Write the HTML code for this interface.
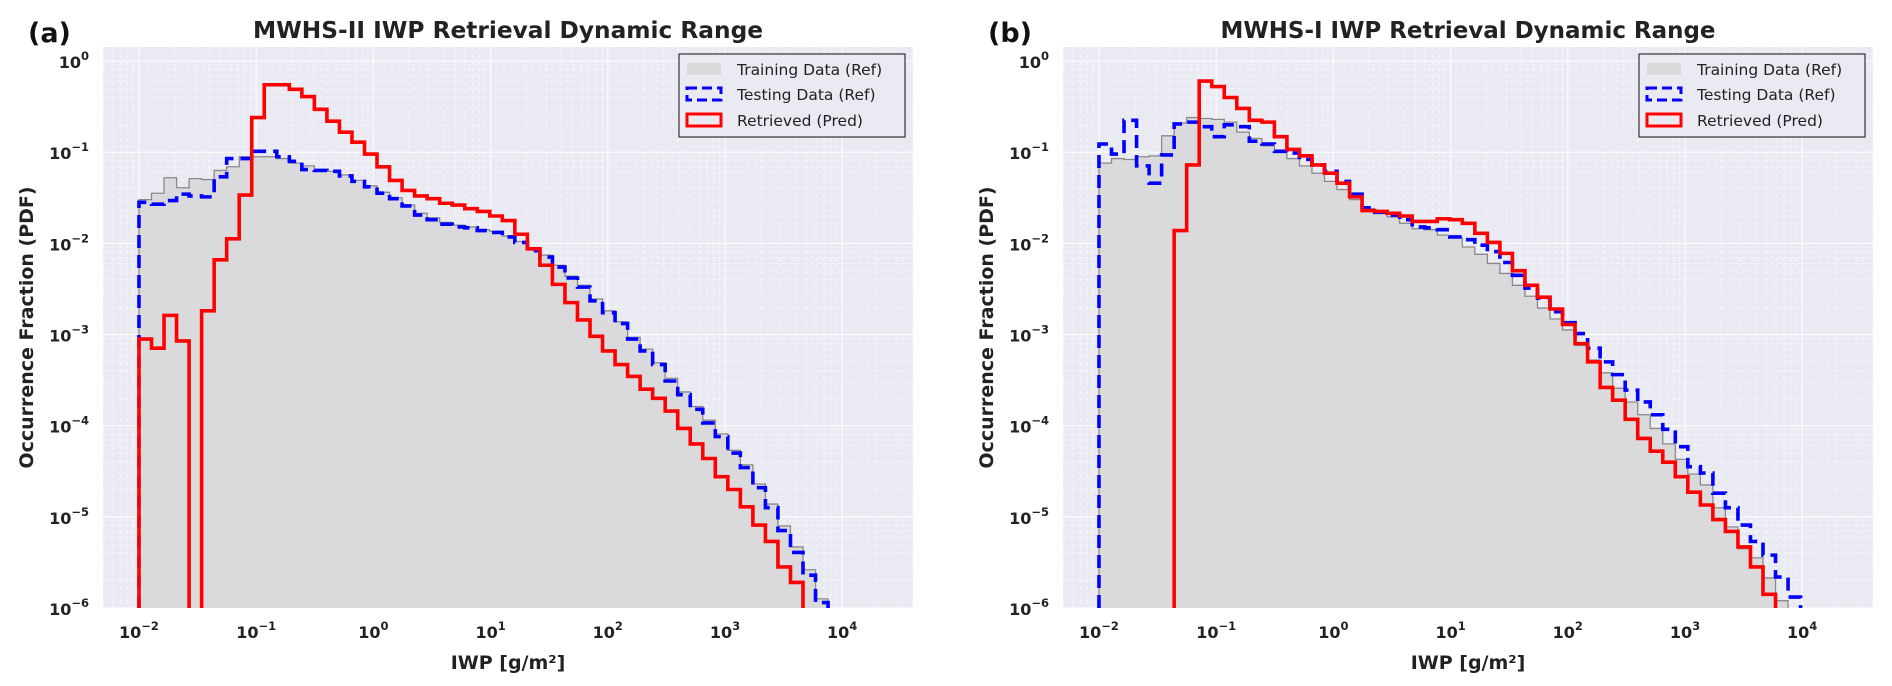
<!DOCTYPE html>
<html><head><meta charset="utf-8"><style>
html,body{margin:0;padding:0;background:#fff;}
svg{display:block;font-family:"DejaVu Sans","Liberation Sans",sans-serif;}
</style></head><body>
<svg id="fig" width="1892" height="686" viewBox="0 0 1892 686" xmlns="http://www.w3.org/2000/svg"></svg>
<script>
// ---- data (log10 of PDF per bin; null = empty bin) ----
const binStart = -2;
const binWidth = 0.1069;
const xTickExps = [-2, -1, 0, 1, 2, 3, 4];
const yTickExps = [0, -1, -2, -3, -4, -5, -6];
const legendLabels = ["Training Data (Ref)", "Testing Data (Ref)", "Retrieved (Pred)"];
const panelTitles = ["MWHS-II IWP Retrieval Dynamic Range", "MWHS-I IWP Retrieval Dynamic Range"];
const panelTags = ["(a)", "(b)"];

const aTrain = [-1.52,-1.45,-1.28,-1.39,-1.29,-1.30,-1.20,-1.16,-1.05,-1.05,-1.05,-1.07,-1.12,-1.15,-1.19,-1.21,-1.25,-1.31,-1.37,-1.44,-1.50,-1.58,-1.67,-1.72,-1.77,-1.80,-1.82,-1.85,-1.87,-1.92,-1.98,-2.06,-2.13,-2.24,-2.36,-2.46,-2.61,-2.74,-2.86,-3.03,-3.16,-3.31,-3.48,-3.63,-3.79,-3.94,-4.09,-4.27,-4.43,-4.64,-4.86,-5.10,-5.33,-5.58,-5.90];
const aTest = [-1.55,-1.57,-1.53,-1.46,-1.48,-1.49,-1.27,-1.07,-1.07,-0.99,-0.99,-1.05,-1.10,-1.19,-1.20,-1.21,-1.26,-1.32,-1.38,-1.45,-1.51,-1.59,-1.69,-1.74,-1.79,-1.82,-1.83,-1.86,-1.88,-1.93,-1.99,-2.08,-2.15,-2.26,-2.38,-2.48,-2.63,-2.76,-2.88,-3.05,-3.18,-3.33,-3.51,-3.66,-3.82,-3.97,-4.12,-4.30,-4.46,-4.68,-4.90,-5.15,-5.39,-5.64,-5.94];
const aPred = [-3.05,-3.15,-2.79,-3.07,null,-2.74,-2.18,-1.95,-1.47,-0.62,-0.26,-0.26,-0.31,-0.39,-0.53,-0.66,-0.78,-0.89,-1.02,-1.16,-1.31,-1.42,-1.48,-1.51,-1.56,-1.58,-1.62,-1.65,-1.70,-1.75,-1.90,-2.06,-2.24,-2.45,-2.65,-2.84,-3.02,-3.18,-3.33,-3.46,-3.60,-3.70,-3.84,-4.03,-4.20,-4.36,-4.56,-4.70,-4.89,-5.09,-5.27,-5.55,-5.72];

const bTrain = [-1.12,-1.07,-1.08,-1.05,-1.04,-0.82,-0.68,-0.62,-0.63,-0.64,-0.67,-0.78,-0.85,-0.93,-0.98,-1.07,-1.15,-1.23,-1.32,-1.41,-1.52,-1.62,-1.67,-1.71,-1.78,-1.84,-1.85,-1.91,-1.94,-2.04,-2.12,-2.22,-2.33,-2.46,-2.58,-2.71,-2.83,-2.95,-3.12,-3.28,-3.42,-3.59,-3.74,-3.88,-4.03,-4.20,-4.37,-4.53,-4.65,-4.90,-5.11,-5.35,-5.45,-5.67,-5.92];
const bTest = [-0.91,-1.02,-0.65,-1.15,-1.34,-1.03,-0.69,-0.67,-0.72,-0.83,-0.70,-0.72,-0.88,-0.91,-0.99,-1.01,-1.08,-1.14,-1.21,-1.32,-1.46,-1.61,-1.66,-1.69,-1.74,-1.82,-1.83,-1.85,-1.93,-1.96,-2.02,-2.09,-2.21,-2.35,-2.49,-2.60,-2.75,-2.87,-2.99,-3.15,-3.30,-3.44,-3.61,-3.74,-3.88,-4.04,-4.23,-4.45,-4.52,-4.74,-4.90,-5.09,-5.27,-5.42,-5.66,-5.88];
const bPred = [null,null,null,null,null,null,-1.86,-1.14,-0.22,-0.28,-0.40,-0.52,-0.65,-0.67,-0.83,-0.97,-1.04,-1.14,-1.23,-1.34,-1.49,-1.64,-1.65,-1.67,-1.70,-1.76,-1.76,-1.73,-1.74,-1.78,-1.89,-1.99,-2.11,-2.30,-2.46,-2.59,-2.72,-2.89,-3.10,-3.30,-3.58,-3.72,-3.93,-4.14,-4.28,-4.40,-4.56,-4.73,-4.87,-5.03,-5.16,-5.33,-5.55,-5.85];

const NS = "http://www.w3.org/2000/svg";
const svg = document.getElementById('fig');
function mk(tag, attrs, parent) {
  const e = document.createElementNS(NS, tag);
  for (const k in attrs) e.setAttribute(k, attrs[k]);
  (parent || svg).appendChild(e);
  return e;
}

function drawPanel(p, left, train, test, pred) {
  const right = left + 810, top = 47, bottom = 608;
  const xMin = -2.307, xMax = xMin + 810 / 117.2;
  const yMin = -6, yMax = 0.154;
  const xS = v => left + (v - xMin) / (xMax - xMin) * (right - left);
  const yS = v => bottom - (v - yMin) / (yMax - yMin) * (bottom - top);

  const g = mk('g', {});
  
  

  const clipId = 'clip' + p;
  const cp = mk('clipPath', {id: clipId}, g);
  mk('rect', {x: left, y: top, width: right - left, height: bottom - top}, cp);

  const bg = mk('rect', {x: left, y: top, width: right - left, height: bottom - top, fill: '#EAEAF2'}, g);
  
  

  const grid = mk('g', {'clip-path': `url(#${clipId})`}, g);
  
  
  for (let d = -3; d <= 5; d++) {
    for (let m = 1; m <= 9; m++) {
      const xv = d + Math.log10(m);
      if (xv > xMin && xv < xMax) mk('line', {x1: xS(xv), x2: xS(xv), y1: top, y2: bottom, stroke: '#fff', 'stroke-width': m === 1 ? 1.2 : 0.8, 'stroke-dasharray': m === 1 ? 'none' : '4 3', opacity: m === 1 ? 0.9 : 0.7}, grid);
    }
  }
  for (let d = -6; d <= 0; d++) {
    for (let m = 1; m <= 9; m++) {
      const yv = d + Math.log10(m);
      if (yv >= yMin && yv < yMax) mk('line', {x1: left, x2: right, y1: yS(yv), y2: yS(yv), stroke: '#fff', 'stroke-width': m === 1 ? 1.2 : 0.8, 'stroke-dasharray': m === 1 ? 'none' : '4 3', opacity: m === 1 ? 0.9 : 0.7}, grid);
    }
  }

  function stepPath(vals) {
    let d = `M${xS(binStart)},${bottom}`;
    vals.forEach((v, k) => {
      const x0 = xS(binStart + k * binWidth), x1 = xS(binStart + (k + 1) * binWidth);
      const y = (v === null) ? bottom + 5 : yS(v);
      d += ` L${x0},${y} L${x1},${y}`;
    });
    d += ` L${xS(binStart + vals.length * binWidth)},${bottom + 5}`;
    return d;
  }
  const series = mk('g', {'clip-path': `url(#${clipId})`}, g);
  const trainFill = mk('path', {d: stepPath(train) + ' Z', fill: '#DADADD', stroke: 'none'}, series);
  
  
  const trainLine = mk('path', {d: stepPath(train), fill: 'none', stroke: '#8a8a8a', 'stroke-width': 1.3}, series);
  
  
  const testLine = mk('path', {d: stepPath(test), fill: 'none', stroke: '#0000ff', 'stroke-width': 3.6, 'stroke-dasharray': '13 7'}, series);
  
  
  const predLine = mk('path', {d: stepPath(pred), fill: 'none', stroke: '#ff0000', 'stroke-width': 3.6, 'stroke-linejoin': 'miter'}, series);
  
  

  xTickExps.forEach(e => {
    const t = mk('text', {x: xS(e), y: 638, 'text-anchor': 'middle', 'font-size': 16, 'font-weight': 'bold', fill: '#222'}, g);
    
    
    t.appendChild(document.createTextNode('10'));
    const s = mk('tspan', {dy: -8, 'font-size': 11.5}, t);
    s.textContent = String(e).replace('-', '−');
  });
  yTickExps.forEach(e => {
    const t = mk('text', {x: left - 14, y: yS(e) + 7, 'text-anchor': 'end', 'font-size': 16, 'font-weight': 'bold', fill: '#222'}, g);
    
    
    t.appendChild(document.createTextNode('10'));
    const s = mk('tspan', {dy: -8, 'font-size': 11.5}, t);
    s.textContent = String(e).replace('-', '−');
  });

  const title = mk('text', {x: (left + right) / 2, y: 38, 'text-anchor': 'middle', 'font-size': 23, 'font-weight': 'bold', fill: '#222', textLength: p === 0 ? 510 : 495, lengthAdjust: 'spacingAndGlyphs'}, g);
  
  
  title.textContent = panelTitles[p];

  const tag = mk('text', {x: left - 75, y: 42, 'font-size': 27, 'font-weight': 'bold', fill: '#111'}, g);
  
  
  tag.textContent = panelTags[p];

  const xl = mk('text', {x: (left + right) / 2, y: 669, 'text-anchor': 'middle', 'font-size': 19, 'font-weight': 'bold', fill: '#222'}, g);
  
  
  xl.textContent = 'IWP [g/m²]';

  const cy = (top + bottom) / 2;
  const yl = mk('text', {x: left - 70, y: cy, 'text-anchor': 'middle', 'font-size': 19, 'font-weight': 'bold', fill: '#222', transform: `rotate(-90 ${left - 70} ${cy})`}, g);
  
  
  yl.textContent = 'Occurrence Fraction (PDF)';

  const lx = right - 234, ly = 54;
  const lg = mk('g', {}, g);
  
  
  mk('rect', {x: lx, y: ly, width: 226, height: 83, fill: '#EAEAF2', stroke: '#333', 'stroke-width': 1.2}, lg);
  const rows = [69, 94, 120];
  rows.forEach((ry, i) => {
    const ent = mk('g', {}, lg);
    
    
    if (i === 0) mk('rect', {x: lx + 8, y: ry - 6, width: 34, height: 12, fill: '#DADADD'}, ent);
    if (i === 1) mk('rect', {x: lx + 8, y: ry - 6, width: 34, height: 12, fill: 'none', stroke: '#0000ff', 'stroke-width': 3, 'stroke-dasharray': '10 5'}, ent);
    if (i === 2) mk('rect', {x: lx + 8, y: ry - 6, width: 34, height: 12, fill: 'none', stroke: '#ff0000', 'stroke-width': 3}, ent);
    const t = mk('text', {x: lx + 58, y: ry + 6, 'font-size': 15.5, fill: '#222'}, ent);
    t.textContent = legendLabels[i];
  });
}
drawPanel(0, 103, aTrain, aTest, aPred);
drawPanel(1, 1063, bTrain, bTest, bPred);
</script>
</body></html>
